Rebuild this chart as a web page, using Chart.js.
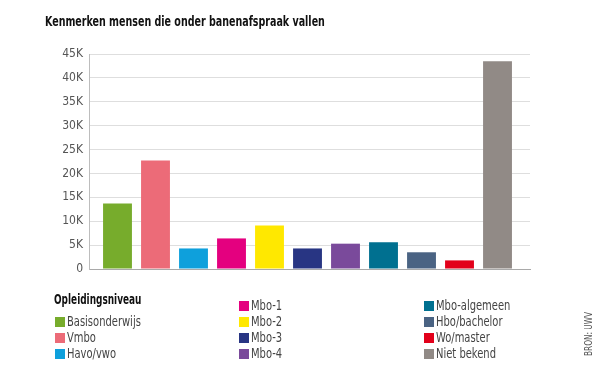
<!DOCTYPE html>
<html>
<head>
<meta charset="utf-8">
<script src="https://cdn.jsdelivr.net/npm/chart.js@4"></script>
<style>
  body { margin: 0; background: #fff; font-family: "DejaVu Sans Condensed", sans-serif; }
  #wrap { position: relative; width: 600px; height: 377px; overflow: hidden; }
  #chart { position: absolute; left: 0; top: 0; }
  .narrow { position: absolute; white-space: nowrap; transform-origin: 0 0; }
  #title { left: 45px; top: 13px; font-size: 14.5px; font-weight: bold; color: #111; transform: scaleX(0.73); }
  #legend-title { left: 54px; top: 291px; font-size: 14px; font-weight: bold; color: #111; transform: scaleX(0.71); }
  .sw { position: absolute; width: 10px; height: 10px; }
  .lbl { font-size: 14px; color: #444; line-height: 16px; transform: scaleX(0.79); }
  #source { left: 583px; top: 356px; font-size: 10px; color: #555; transform: rotate(-90deg) scaleX(0.82); }
</style>
</head>
<body>
<div id="wrap">
  <canvas id="chart" width="600" height="377"></canvas>
  <div id="title" class="narrow">Kenmerken mensen die onder banenafspraak vallen</div>
  <div id="legend-title" class="narrow">Opleidingsniveau</div>
  <div id="source" class="narrow">BRON: UWV</div>
</div>
<script>
const categories = ["Basisonderwijs", "Vmbo", "Havo/vwo", "Mbo-1", "Mbo-2", "Mbo-3", "Mbo-4", "Mbo-algemeen", "Hbo/bachelor", "Wo/master", "Niet bekend"];
const values = [13700, 22700, 4300, 6400, 9100, 4300, 5300, 5600, 3500, 1800, 43500];
const colors = ["#77ac2c", "#ec6b78", "#0ea0dc", "#e4007f", "#ffe800", "#283583", "#7a4a9b", "#007090", "#4a6383", "#e2001a", "#918a86"];
const yTicks = ["0", "5K", "10K", "15K", "20K", "25K", "30K", "35K", "40K", "45K"];

// legend: first column has the heading, so 3 items there, then 4 per column
const legendSlots = [
  [55, 313], [55, 329], [55, 345],
  [239, 297], [239, 313], [239, 329], [239, 345],
  [424, 297], [424, 313], [424, 329], [424, 345]
];
const wrap = document.getElementById("wrap");
categories.forEach((name, i) => {
  const sw = document.createElement("div");
  sw.className = "sw";
  sw.style.left = legendSlots[i][0] + "px";
  sw.style.top = legendSlots[i][1] + 4 + "px";
  sw.style.background = colors[i];
  wrap.appendChild(sw);

  const lbl = document.createElement("div");
  lbl.className = "narrow lbl";
  lbl.style.left = legendSlots[i][0] + 12 + "px";
  lbl.style.top = legendSlots[i][1] + "px";
  lbl.textContent = name;
  wrap.appendChild(lbl);
});

const fontFamily = '"DejaVu Sans Condensed", sans-serif';

new Chart(document.getElementById("chart").getContext("2d"), {
  type: "bar",
  data: {
    datasets: [
      {
        label: "Opleidingsniveau",
        data: values.map((v, i) => ({ x: i, y: v })),
        backgroundColor: colors,
        borderWidth: 0,
        barPercentage: 0.76,
        categoryPercentage: 1,
      },
    ],
  },
  options: {
    responsive: false,
    animation: false,
    layout: { padding: { left: 40, right: 70, top: 54, bottom: 108 } },
    scales: {
      x: {
        type: "linear",
        offset: false,
        min: -0.75,
        max: 10.855,
        ticks: { display: false },
        grid: { display: false, drawTicks: false },
        border: { display: true, color: "#a9a9a9", width: 1 },
        afterFit: (scale) => { scale.height = 0; },
      },
      y: {
        min: 0,
        max: 45000,
        ticks: {
          stepSize: 5000,
          padding: 6,
          color: "#555",
          font: { family: fontFamily, size: 12 },
          callback: (value) => yTicks[value / 5000],
        },
        grid: { color: "#dedede", lineWidth: 1, drawTicks: false },
        border: { color: "#bdbdbd", width: 1 },
        afterFit: (scale) => { scale.width = 49; },
      },
    },
    plugins: {
      legend: { display: false },
      tooltip: { enabled: false },
    },
  },
});
</script>
</body>
</html>
